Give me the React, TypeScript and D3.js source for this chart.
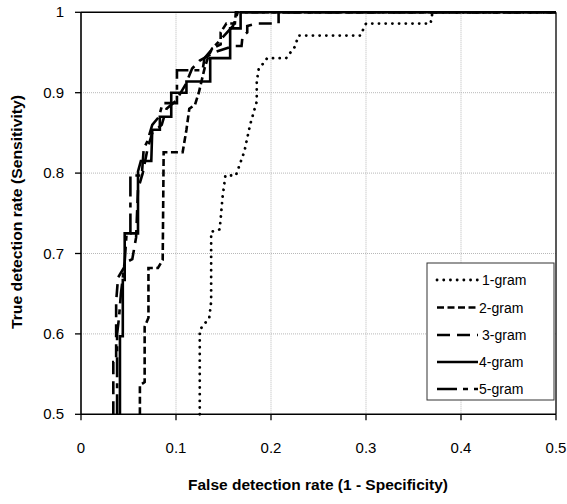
import React from "react";
import * as d3 from "d3";

type P = [number, number];

const seriesNames = ["1-gram", "2-gram", "3-gram", "4-gram", "5-gram"];

const gram1: P[] = [
  [0.125, 0.5], [0.125, 0.605], [0.135, 0.62], [0.137, 0.64], [0.137, 0.727], [0.146, 0.73],
  [0.149, 0.77], [0.152, 0.797], [0.163, 0.797], [0.172, 0.827], [0.178, 0.86], [0.185, 0.889],
  [0.185, 0.914], [0.187, 0.929], [0.196, 0.943], [0.216, 0.943], [0.225, 0.957], [0.229, 0.971],
  [0.294, 0.971], [0.3, 0.986], [0.368, 0.986], [0.37, 1], [0.5, 1],
];
const gram2: P[] = [
  [0.062, 0.5], [0.062, 0.536], [0.067, 0.54], [0.067, 0.609], [0.071, 0.62], [0.071, 0.682],
  [0.081, 0.682], [0.086, 0.692], [0.087, 0.826], [0.107, 0.826], [0.111, 0.854], [0.114, 0.88],
  [0.12, 0.885], [0.124, 0.9], [0.13, 0.93], [0.134, 0.945], [0.138, 0.955], [0.147, 0.96],
  [0.147, 0.975], [0.153, 0.986], [0.162, 0.986], [0.163, 1], [0.5, 1],
];
const gram3: P[] = [
  [0.034, 0.5], [0.034, 0.565], [0.037, 0.565], [0.037, 0.64], [0.039, 0.67], [0.049, 0.69],
  [0.054, 0.693], [0.058, 0.72], [0.06, 0.78], [0.065, 0.8], [0.07, 0.83], [0.075, 0.85],
  [0.085, 0.86], [0.09, 0.88], [0.1, 0.89], [0.105, 0.9], [0.11, 0.91], [0.117, 0.93],
  [0.125, 0.94], [0.14, 0.95], [0.16, 0.958], [0.169, 0.958], [0.17, 0.97], [0.175, 0.975],
  [0.175, 0.983], [0.185, 0.986], [0.208, 0.986], [0.208, 1], [0.5, 1],
];
const gram4: P[] = [
  [0.041, 0.5], [0.041, 0.597], [0.044, 0.597], [0.044, 0.667], [0.046, 0.667], [0.046, 0.725],
  [0.06, 0.725], [0.06, 0.802], [0.063, 0.815], [0.074, 0.815], [0.075, 0.854], [0.083, 0.854],
  [0.083, 0.87], [0.095, 0.87], [0.095, 0.9], [0.111, 0.9], [0.111, 0.914], [0.136, 0.914],
  [0.136, 0.943], [0.157, 0.943], [0.157, 0.98], [0.168, 0.98], [0.168, 1], [0.5, 1],
];
const gram5: P[] = [
  [0.038, 0.5], [0.038, 0.6], [0.04, 0.62], [0.042, 0.65], [0.046, 0.69], [0.048, 0.725],
  [0.052, 0.725], [0.052, 0.797], [0.064, 0.797], [0.066, 0.83], [0.07, 0.84], [0.075, 0.86],
  [0.082, 0.87], [0.086, 0.887], [0.101, 0.887], [0.101, 0.928], [0.128, 0.928], [0.13, 0.943],
  [0.14, 0.957], [0.15, 0.97], [0.16, 0.983], [0.165, 1], [0.5, 1],
];

const seriesData = [gram1, gram2, gram3, gram4, gram5];

const xTicks = [0, 0.1, 0.2, 0.3, 0.4, 0.5];
const yTicks = [0.5, 0.6, 0.7, 0.8, 0.9, 1];
const xTickLabels = ["0", "0.1", "0.2", "0.3", "0.4", "0.5"];
const yTickLabels = ["0.5", "0.6", "0.7", "0.8", "0.9", "1"];

const styles = [
  { dash: "0.1,6.6", width: 2.8, cap: "round" },
  { dash: "7,3.5", width: 2.6, cap: "butt" },
  { dash: "13,7", width: 2.6, cap: "butt" },
  { dash: "none", width: 2.6, cap: "butt" },
  { dash: "20,6,5,6", width: 2.6, cap: "butt" },
];

const font = "Liberation Sans, Arial, sans-serif";

export default function App() {
  const left = 81, right = 556, top = 12.3, bottom = 414.3;
  const x = d3.scaleLinear().domain([0, 0.5]).range([left, right]);
  const y = d3.scaleLinear().domain([0.5, 1]).range([bottom, top]);
  const line = d3.line<P>().x((d) => x(d[0])).y((d) => y(d[1]));

  const legX = 427, legY = 263, legW = 127, legH = 137;
  const legRows = [280, 307.5, 335, 362, 389];

  return (
    <svg width={567} height={504} style={{ position: "absolute", left: 0, top: 0, background: "#fff" }}>
      <rect x={0} y={0} width={567} height={504} fill="#fff" />
      {xTicks.slice(1, -1).map((t) => (
        <line key={"gx" + t} x1={x(t)} x2={x(t)} y1={top} y2={bottom} stroke="#b8b8b8" strokeWidth={1} strokeDasharray="1,1" />
      ))}
      {yTicks.slice(1, -1).map((t) => (
        <line key={"gy" + t} x1={left} x2={right} y1={y(t)} y2={y(t)} stroke="#b8b8b8" strokeWidth={1} strokeDasharray="1,1" />
      ))}
      <line x1={left} x2={right} y1={top} y2={top} stroke="#000" strokeWidth={1.5} />
      <line x1={right} x2={right} y1={top} y2={bottom} stroke="#222" strokeWidth={1.5} />
      <line x1={left} x2={left} y1={top} y2={bottom} stroke="#000" strokeWidth={1.6} />
      <line x1={left} x2={right} y1={bottom} y2={bottom} stroke="#000" strokeWidth={1.6} />
      {yTicks.map((t, i) => (
        <g key={"yt" + t}>
          <line x1={left - 6} x2={left} y1={y(t)} y2={y(t)} stroke="#000" strokeWidth={1.3} />
          <text x={64} y={y(t) + 5} textAnchor="end" fontFamily={font} fontSize={15}>{yTickLabels[i]}</text>
        </g>
      ))}
      {xTicks.map((t, i) => (
        <g key={"xt" + t}>
          <line x1={x(t)} x2={x(t)} y1={bottom} y2={bottom + 6} stroke="#000" strokeWidth={1.3} />
          <text x={x(t)} y={453} textAnchor="middle" fontFamily={font} fontSize={15}>{xTickLabels[i]}</text>
        </g>
      ))}
      <g>
        {seriesData.map((s, i) => (
          <path key={"s" + i} d={line(s) || ""} fill="none" stroke="#000" strokeWidth={styles[i].width}
            strokeDasharray={styles[i].dash} strokeLinecap={styles[i].cap as any} strokeLinejoin="miter" />
        ))}
      </g>
      <text x={318} y={490} textAnchor="middle" fontFamily={font} fontSize={14} fontWeight="bold"
        textLength={260} lengthAdjust="spacingAndGlyphs">False detection rate (1 - Specificity)</text>
      <text transform="translate(22,212) rotate(-90)" textAnchor="middle" fontFamily={font} fontSize={14} fontWeight="bold"
        textLength={234} lengthAdjust="spacingAndGlyphs">True detection rate (Sensitivity)</text>
      <rect x={legX} y={legY} width={legW} height={legH} fill="#fff" stroke="#333" strokeWidth={1} />
      {seriesNames.map((n, i) => (
        <g key={"l" + n}>
          <line x1={437} x2={478} y1={legRows[i]} y2={legRows[i]} stroke="#000" strokeWidth={styles[i].width}
            strokeDasharray={styles[i].dash} strokeLinecap={styles[i].cap as any} />
          <text x={i === 0 || i === 2 ? 482 : 479} y={legRows[i] + 5} fontFamily={font} fontSize={14}>{n}</text>
        </g>
      ))}
    </svg>
  );
}
